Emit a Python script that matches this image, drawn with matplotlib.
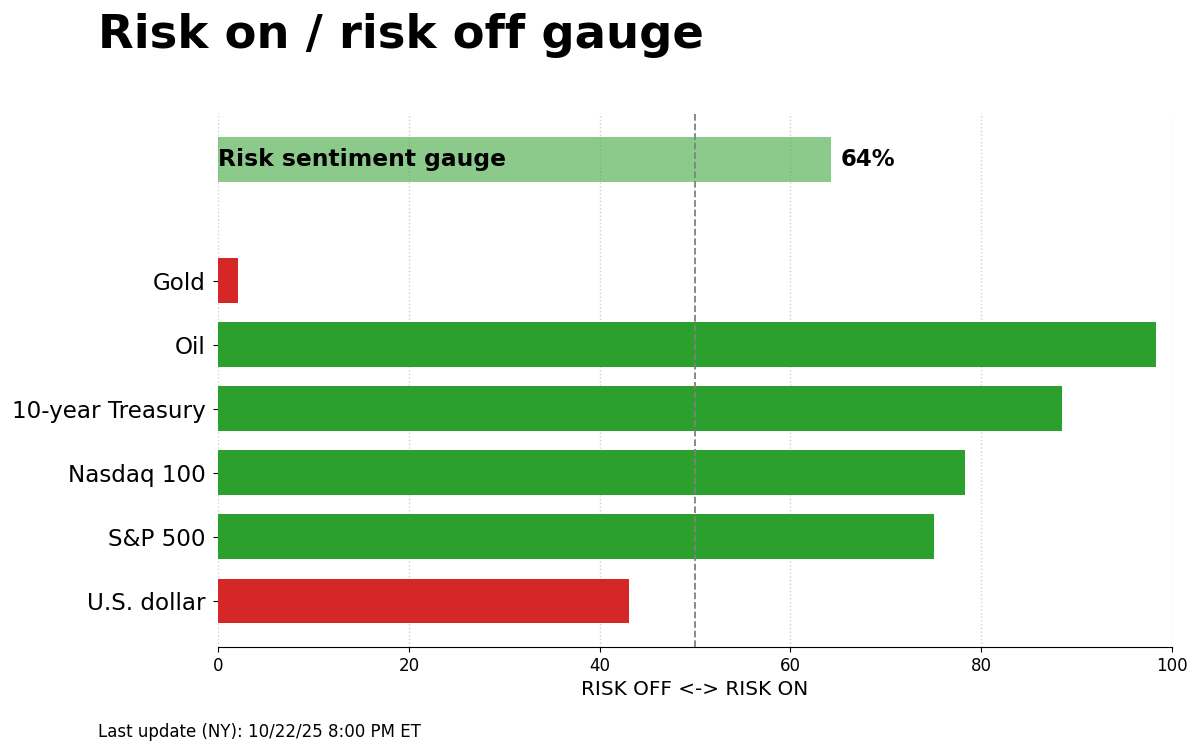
import matplotlib
matplotlib.use("Agg")
import matplotlib.pyplot as plt
import numpy as np

# data
assets = ["U.S. dollar", "S&P 500", "Nasdaq 100", "10-year Treasury", "Oil", "Gold"]
scores = [43.1, 75.1, 78.3, 88.5, 98.3, 2.1]
risk_on = [False, True, True, True, True, False]
gauge_value = 64.3
gauge_label = "Risk sentiment gauge"
footer = "Last update (NY): 10/22/25 8:00 PM ET"

GREEN = "#2ca02c"
RED = "#d62728"

fig = plt.figure(figsize=(12, 7.52), dpi=100)
ax = fig.add_axes([0.1817, 0.1396, 0.795, 0.7101])

y = np.arange(len(assets))
colors = [GREEN if on else RED for on in risk_on]
ax.barh(y, scores, height=0.7, color=colors, zorder=2)

# overall gauge bar above the assets
gauge_y = len(assets) - 1 + 1.9
ax.barh([gauge_y], [gauge_value], height=0.7, color=GREEN, alpha=0.55, zorder=2)
ax.text(0, gauge_y, gauge_label, ha="left", va="center", fontsize=16.8,
        fontweight="bold", zorder=4)
ax.text(gauge_value + 1, gauge_y, f"{gauge_value:.0f}%", ha="left", va="center",
        fontsize=16.4, fontweight="bold", zorder=4)

ax.axvline(50, color="gray", linestyle="--", linewidth=1.3, zorder=3)

ax.set_yticks(y)
ax.set_yticklabels(assets, fontsize=16.6)
ax.tick_params(axis="y", pad=5.2)
ax.set_xlim(0, 100)
ax.set_ylim(-0.72, gauge_y + 0.72)
ax.tick_params(axis="x", labelsize=12)
ax.set_xlabel("RISK OFF <-> RISK ON", fontsize=14.4)
ax.grid(axis="x", linestyle=":", color="#d0d0d0", linewidth=1, zorder=0)
ax.set_axisbelow(True)
for side in ["top", "right", "left"]:
    ax.spines[side].set_visible(False)

fig.text(0.082, 0.936, "Risk on / risk off gauge", fontsize=33.5, fontweight="bold",
         ha="left", va="baseline")
fig.text(0.082, 0.026, footer, fontsize=12, ha="left", va="center")

fig.savefig("out.png", dpi=100)
